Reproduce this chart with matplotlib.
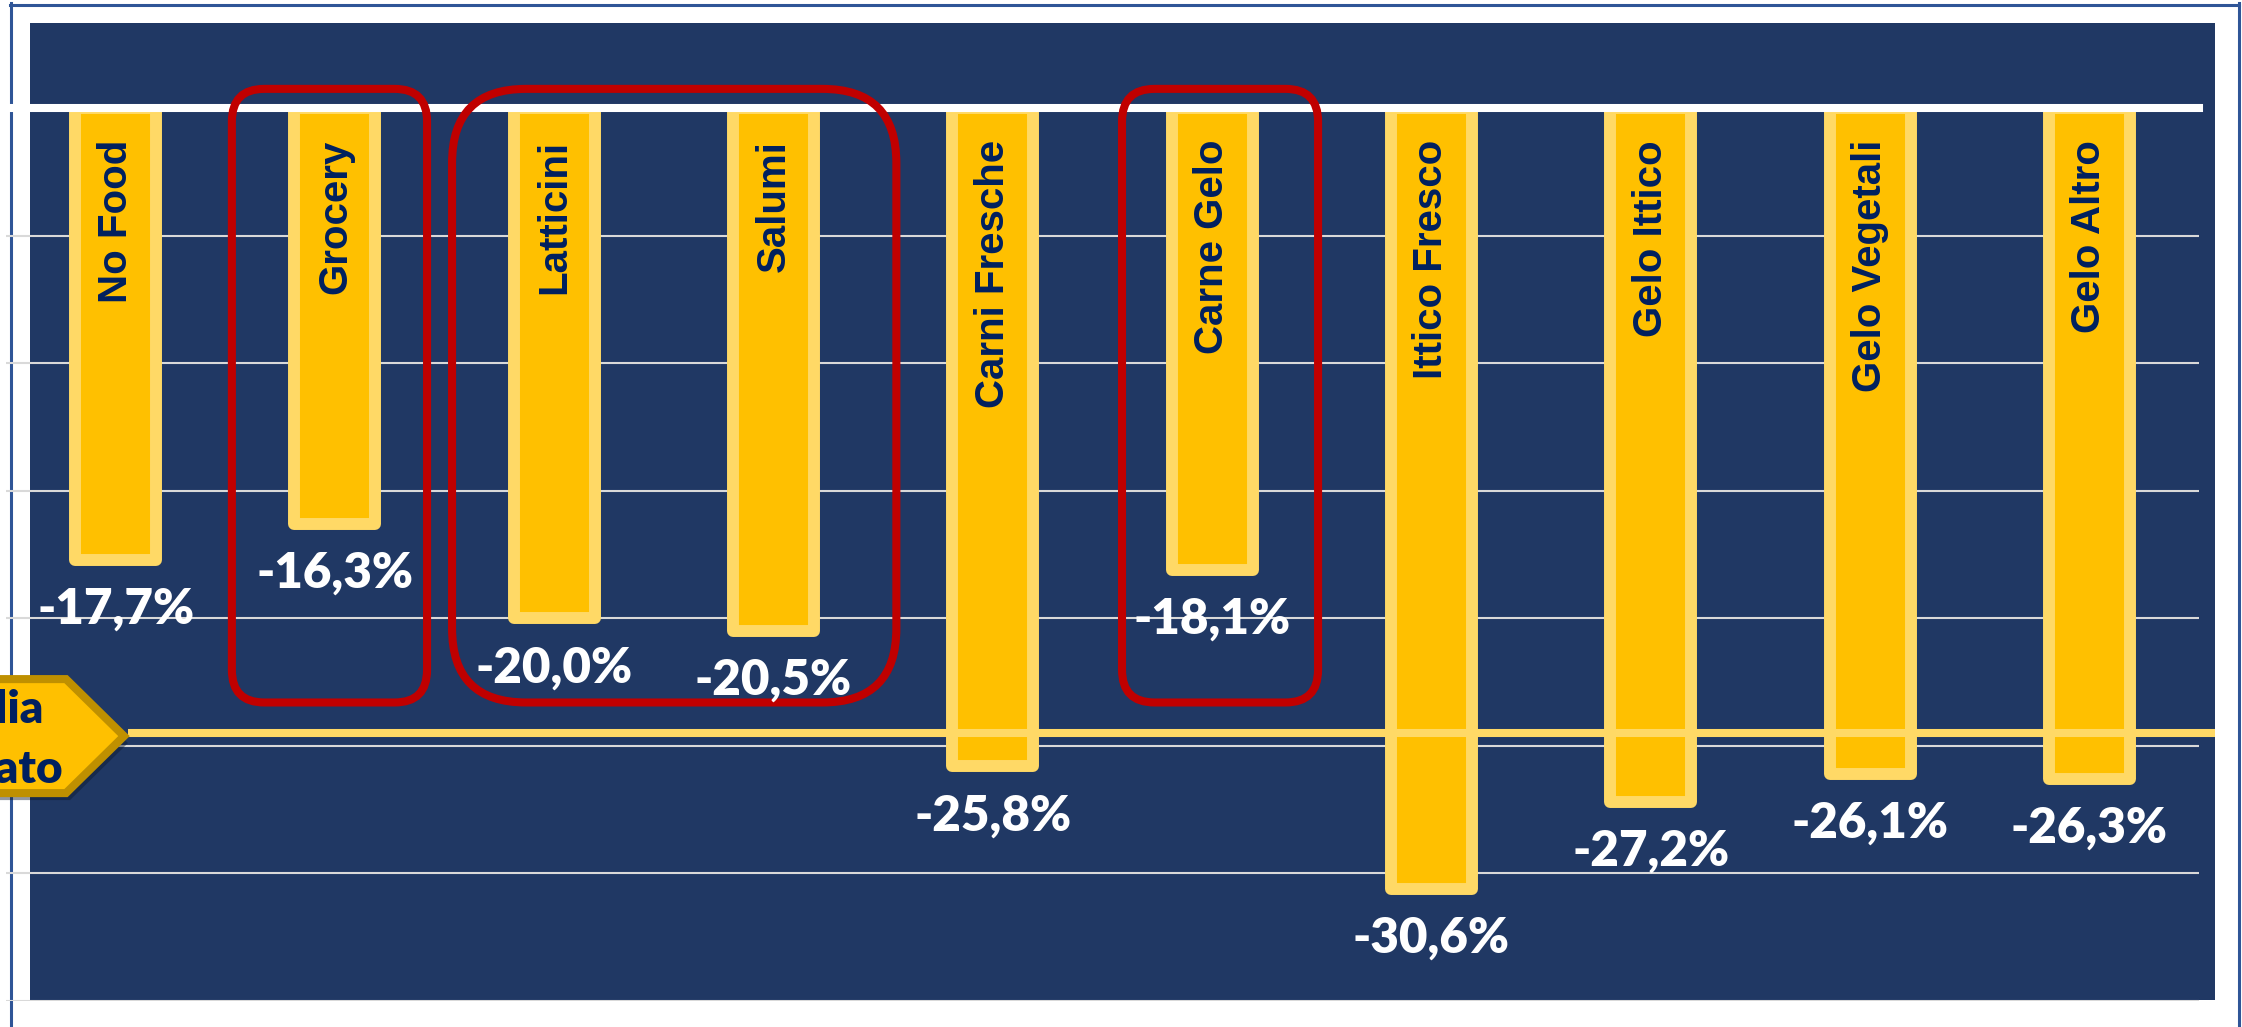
import matplotlib
matplotlib.use("Agg")
import matplotlib.pyplot as plt
from matplotlib.patches import Rectangle, FancyBboxPatch, Polygon
from matplotlib.lines import Line2D
from matplotlib.transforms import IdentityTransform, blended_transform_factory

# Dati
categorie = ["No Food", "Grocery", "Latticini", "Salumi", "Carni Fresche",
             "Carne Gelo", "Ittico Fresco", "Gelo Ittico", "Gelo Vegetali", "Gelo Altro"]
variazioni = [-17.7, -16.3, -20.0, -20.5, -25.8, -18.1, -30.6, -27.2, -26.1, -26.3]
media_mercato = -24.5
etichetta_media = ["Italia", "Mercato"]

# gruppi evidenziati in rosso (x sinistra, x destra) in unità dei dati
gruppi_evidenziati = [(0.53, 1.42), (1.534, 3.56), (4.589, 5.483)]
y_box = (0.75, -23.3)

# Colori
NAVY = "#203864"
GIALLO = "#FFC000"
GIALLO_CHIARO = "#FFD966"
BLU_TESTO = "#002060"
ROSSO = "#C00000"

W, H = 2242, 1027
fig = plt.figure(figsize=(W / 100, H / 100), dpi=100)
fig.patch.set_facecolor("white")


def px(x, y):
    # coordinate pixel (origine in alto a sinistra) -> display
    return x, H - y


# sfondo blu scuro e cornice
fig.add_artist(Rectangle((30 / W, (H - 1000) / H), (2215 - 30) / W, (1000 - 23) / H,
                         transform=fig.transFigure, facecolor=NAVY, edgecolor="none", zorder=-10))
cornice = "#2F5597"
fig.add_artist(Line2D([10.5 / W, 10.5 / W], [0, (H - 3) / H], transform=fig.transFigure,
                      color=cornice, lw=2.2, zorder=-5))
fig.add_artist(Line2D([10 / W, 2239 / W], [(H - 4.5) / H, (H - 4.5) / H], transform=fig.transFigure,
                      color=cornice, lw=2.2, zorder=-5))
fig.add_artist(Line2D([2239 / W, 2239 / W], [0, (H - 3) / H], transform=fig.transFigure,
                      color=cornice, lw=2.2, zorder=-5))

ax = fig.add_axes([6 / W, (H - 1001) / H, (2199 - 6) / W, (1001 - 108) / H])
ax.patch.set_visible(False)
for s in ax.spines.values():
    s.set_visible(False)
ax.set_xticks([])
ax.set_yticks([])
ax.set_xlim(-0.5, len(categorie) - 0.5)
ax.set_ylim(-35, 0)

# griglia
for g in range(-5, -36, -5):
    ax.axhline(g, color="#D9D9D9", lw=1.5, zorder=1)

x = list(range(len(categorie)))
ax.bar(x, variazioni, width=0.369, color=GIALLO, edgecolor=GIALLO_CHIARO,
       linewidth=8.6, joinstyle="round", zorder=2)

ax.axhline(0, color="white", lw=5.8, zorder=3, clip_on=False)

# linea media mercato
blend = blended_transform_factory(fig.transFigure, ax.transData)
ax.plot([128 / W, 2215 / W], [media_mercato, media_mercato], transform=blend,
        color=GIALLO_CHIARO, lw=5.8, zorder=4, clip_on=False, solid_capstyle="butt")

# etichette categorie e valori
for i, (cat, v) in enumerate(zip(categorie, variazioni)):
    ax.annotate(cat, (i, 0), xytext=(0, -23), textcoords="offset points",
                rotation=90, ha="center", va="top", fontsize=29, fontweight="bold",
                family="Liberation Sans", color=BLU_TESTO, zorder=5)
    ax.annotate(f"{v:.1f}%".replace(".", ","), (i, v), xytext=(0, -46),
                textcoords="offset points", ha="center", va="baseline", fontsize=35.5,
                fontweight=800, family=["Lato", "DejaVu Sans"], color="white", zorder=6)

# riquadri rossi
for x0, x1 in gruppi_evidenziati:
    xa, ya = ax.transData.transform((x0, y_box[1]))
    xb, yb = ax.transData.transform((x1, y_box[0]))
    r = min(xb - xa, yb - ya) / 6
    ax.add_patch(FancyBboxPatch((xa, ya), xb - xa, yb - ya,
                                boxstyle=f"round,pad=0,rounding_size={r}",
                                transform=IdentityTransform(), facecolor="none",
                                edgecolor=ROSSO, lw=5.8, zorder=5, clip_on=False))

# freccia "media mercato"
yc = H - ax.transData.transform((0, media_mercato))[1] + 3
punti = [(-20, yc - 57), (66, yc - 57), (124, yc), (66, yc + 57), (-20, yc + 57)]
ombra = Polygon([px(a + 4, b + 7) for a, b in punti], closed=True, transform=IdentityTransform(),
                facecolor="#0E1A30", edgecolor="none", alpha=0.45, zorder=6, clip_on=False)
ax.add_patch(ombra)
freccia = Polygon([px(a, b) for a, b in punti], closed=True, transform=IdentityTransform(),
                  facecolor=GIALLO, edgecolor="#BF9000", lw=5.8, joinstyle="miter",
                  zorder=7, clip_on=False)
ax.add_patch(freccia)
for testo, xr, yb in [(etichetta_media[0], 44, yc - 13), (etichetta_media[1], 63, yc + 47)]:
    ax.text(*px(xr, yb), testo, transform=IdentityTransform(), ha="right", va="baseline",
            fontsize=33, fontweight=800, family=["Lato", "DejaVu Sans"],
            color=BLU_TESTO, zorder=8, clip_on=False)

fig.savefig("out.png", dpi=100)
